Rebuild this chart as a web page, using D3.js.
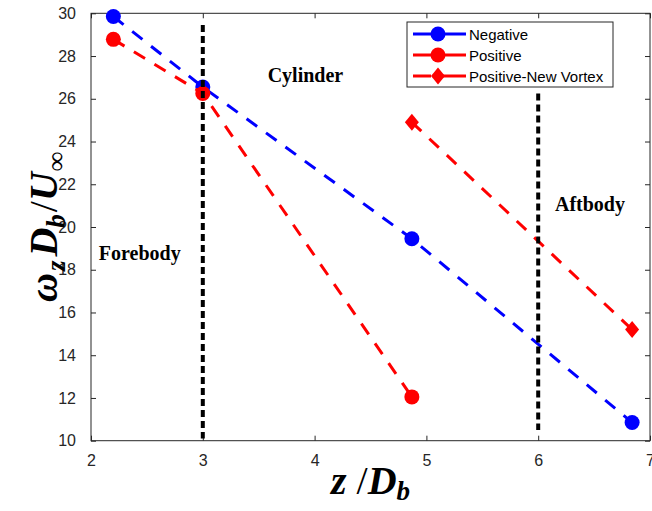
<!DOCTYPE html>
<html><head><meta charset="utf-8">
<script src="https://cdn.jsdelivr.net/npm/d3@7"></script>
<style>body{margin:0;background:#fff}</style>
</head><body><svg id="c" width="652" height="511"></svg>
<script>
// ---- data ----
const negX = [2.2, 3.0, 4.87, 6.84];
const negY = [29.85, 26.55, 19.45, 10.85];
const posX = [2.2, 3.0, 4.87];
const posY = [28.78, 26.25, 12.05];
const newX = [4.87, 6.84];
const newY = [24.9, 15.2];
const xTicks = [2, 3, 4, 5, 6, 7];
const yTicks = [10, 12, 14, 16, 18, 20, 22, 24, 26, 28, 30];
const regionX = [3, 6];
const regionTop = [29.45, 26.25];
const regionBottom = [10.1, 10.5];
const regionNames = ["Forebody", "Cylinder", "Aftbody"];
const regionLabelX = [2.07, 3.58, 6.15];
const regionLabelY = [18.45, 26.8, 20.75];
const seriesNames = ["Negative", "Positive", "Positive-New Vortex"];

// ---- layout ----
const L = 91, R = 650, T = 13.3, B = 440.7;
const svg = d3.select("#c");
const x = d3.scaleLinear().domain([2, 7]).range([L, R]);
const y = d3.scaleLinear().domain([10, 30]).range([B, T]);
const axisCol = "#262626";
const tickFont = "Arial, 'Liberation Sans', sans-serif";

// box
svg.append("rect").attr("x", L).attr("y", T).attr("width", R - L).attr("height", B - T)
  .attr("fill", "none").attr("stroke", axisCol).attr("stroke-width", 1);

// axes with inward ticks
const gx = svg.append("g").attr("transform", `translate(0,${B})`)
  .call(d3.axisBottom(x).tickValues(xTicks).tickSize(-5).tickPadding(14).tickFormat(d3.format("d")));
const gxt = svg.append("g").attr("transform", `translate(0,${T})`)
  .call(d3.axisTop(x).tickValues(xTicks).tickSize(-5).tickFormat(""));
const gy = svg.append("g").attr("transform", `translate(${L},0)`)
  .call(d3.axisLeft(y).tickValues(yTicks).tickSize(-5).tickPadding(15).tickFormat(d3.format("d")));
const gyr = svg.append("g").attr("transform", `translate(${R},0)`)
  .call(d3.axisRight(y).tickValues(yTicks).tickSize(-5).tickFormat(""));
[gx, gxt, gy, gyr].forEach(g => {
  g.select(".domain").remove();
  g.selectAll("line").attr("stroke", axisCol);
  g.selectAll("text").attr("fill", axisCol).style("font-family", tickFont).style("font-size", "16px");
});

// series
const line = d3.line().x(d => x(d[0])).y(d => y(d[1]));
const series = [
  {name: seriesNames[0], xs: negX, ys: negY, color: "#0000ff", marker: "circle"},
  {name: seriesNames[1], xs: posX, ys: posY, color: "#ff0000", marker: "circle"},
  {name: seriesNames[2], xs: newX, ys: newY, color: "#ff0000", marker: "diamond"}
];
const diamond = "M0,-8.5L7,0L0,8.5L-7,0Z";
series.forEach(s => {
  const pts = s.xs.map((v, i) => [v, s.ys[i]]);
  svg.append("path").attr("d", line(pts)).attr("fill", "none")
    .attr("stroke", s.color).attr("stroke-width", 3).attr("stroke-dasharray", "13,11");
  pts.forEach(p => {
    if (s.marker === "circle") {
      svg.append("circle").attr("cx", x(p[0])).attr("cy", y(p[1])).attr("r", 7.5).attr("fill", s.color);
    } else {
      svg.append("path").attr("d", diamond).attr("transform", `translate(${x(p[0])},${y(p[1])})`).attr("fill", s.color);
    }
  });
});

// region boundaries
regionX.forEach((v, i) => {
  svg.append("line").attr("x1", x(v)).attr("x2", x(v))
    .attr("y1", y(regionTop[i])).attr("y2", y(regionBottom[i]))
    .attr("stroke", "#000").attr("stroke-width", 4).attr("stroke-dasharray", "7,4");
});

// region labels
regionNames.forEach((n, i) => {
  svg.append("text").attr("x", x(regionLabelX[i])).attr("y", y(regionLabelY[i]))
    .text(n).attr("fill", "#000")
    .style("font-family", "'Liberation Serif', 'Times New Roman', serif")
    .style("font-weight", "bold").style("font-size", "20px");
});

// legend
const lg = svg.append("g");
lg.append("rect").attr("x", 407).attr("y", 22).attr("width", 206).attr("height", 65)
  .attr("fill", "#fff").attr("stroke", axisCol).attr("stroke-width", 1);
series.forEach((s, i) => {
  const cy = 34 + i * 21;
  lg.append("line").attr("x1", 413).attr("x2", 466).attr("y1", cy).attr("y2", cy)
    .attr("stroke", s.color).attr("stroke-width", 3).attr("stroke-dasharray", "18,11,6,0");
  if (s.marker === "circle") lg.append("circle").attr("cx", 438).attr("cy", cy).attr("r", 7.5).attr("fill", s.color);
  else lg.append("path").attr("d", diamond).attr("transform", `translate(438,${cy})`).attr("fill", s.color);
  lg.append("text").attr("x", 469).attr("y", cy + 5.5).text(s.name)
    .attr("fill", "#000").style("font-family", tickFont).style("font-size", "15px");
});

// axis labels
const mathFont = "'Liberation Serif', 'Times New Roman', serif";
const xl = svg.append("text").attr("x", (L + R) / 2).attr("y", 494).attr("text-anchor", "middle")
  .attr("fill", "#000").style("font-family", mathFont).style("font-weight", "bold")
  .style("font-style", "italic").style("font-size", "40px");
xl.append("tspan").text("z ");
xl.append("tspan").text("/").style("font-style", "normal").style("font-weight", "normal");
xl.append("tspan").text("D");
xl.append("tspan").text("b").attr("dy", 6).style("font-size", "27px");

const yl = svg.append("text").attr("transform", `translate(57,${(T + B) / 2}) rotate(-90)`)
  .attr("text-anchor", "middle").attr("fill", "#000")
  .style("font-family", mathFont).style("font-weight", "bold")
  .style("font-style", "italic").style("font-size", "40px");
yl.append("tspan").text("ω");
yl.append("tspan").text("z").attr("dy", 8).attr("dx", 2).style("font-size", "27px");
yl.append("tspan").text("D").attr("dy", -8).attr("dx", 4);
yl.append("tspan").text("b").attr("dy", 8).style("font-size", "27px");
yl.append("tspan").text("/").attr("dy", -8).attr("dx", 2).style("font-style", "normal").style("font-weight", "normal");
yl.append("tspan").text("U");
yl.append("tspan").text("∞").attr("dy", 8).attr("dx", 1).style("font-size", "27px").style("font-style", "normal");
</script>
</body></html>
